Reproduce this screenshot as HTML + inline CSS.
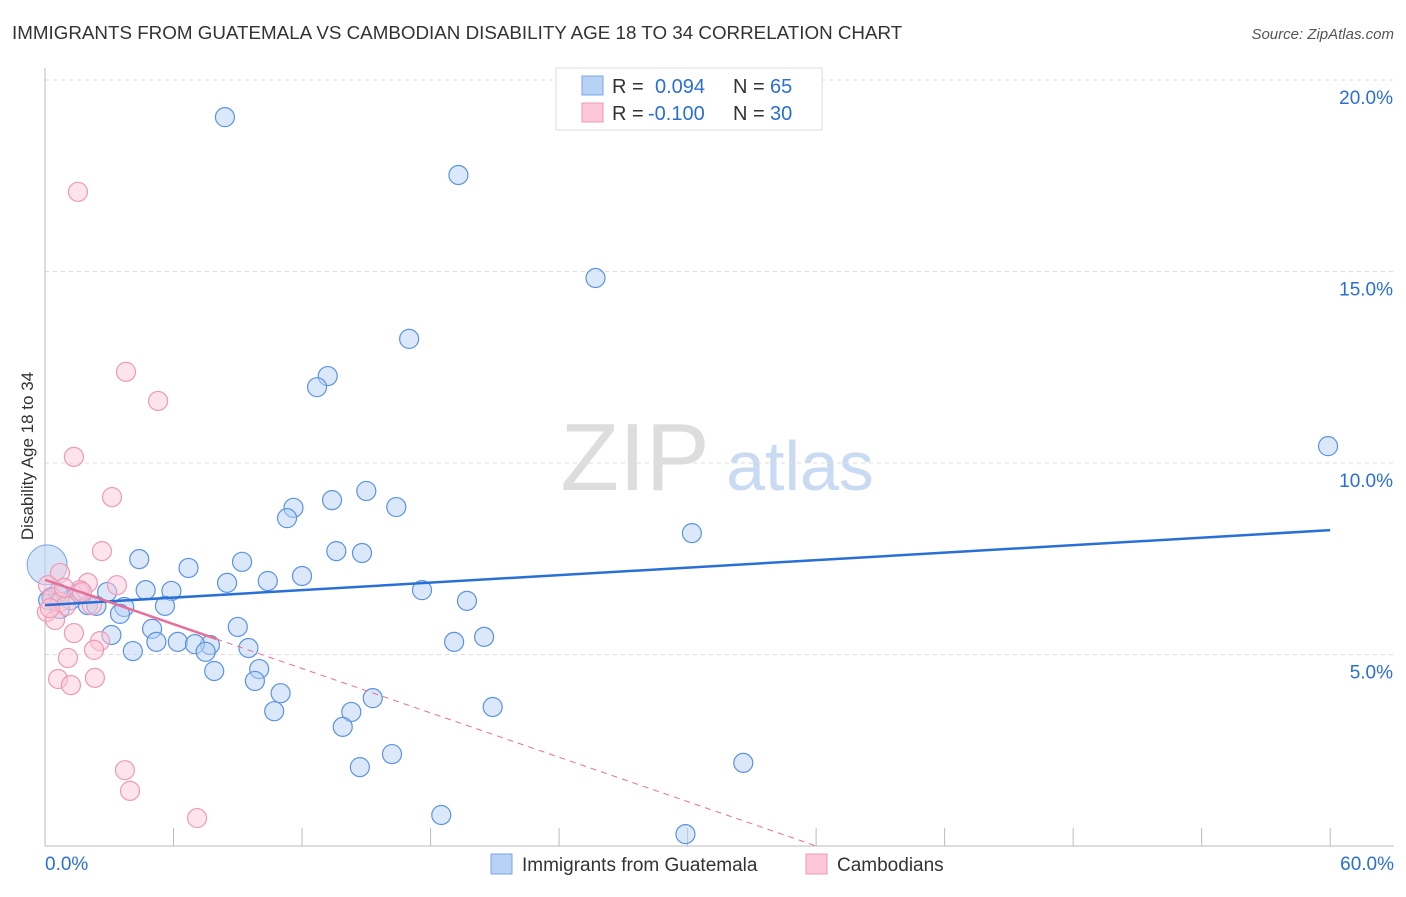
<!DOCTYPE html>
<html><head><meta charset="utf-8"><style>
body{margin:0;background:#fff;font-family:"Liberation Sans",sans-serif;}
svg text{font-family:"Liberation Sans",sans-serif;}
</style></head><body>
<svg id="chart" width="1406" height="892" xmlns="http://www.w3.org/2000/svg">
<text x="12" y="39" font-size="18.8" fill="#333">IMMIGRANTS FROM GUATEMALA VS CAMBODIAN DISABILITY AGE 18 TO 34 CORRELATION CHART</text>
<text x="1394" y="39" font-size="15" fill="#555" text-anchor="end" font-style="italic">Source: ZipAtlas.com</text>
<text transform="translate(33,456) rotate(-90)" font-size="17" fill="#333" text-anchor="middle">Disability Age 18 to 34</text>
<g><text x="635" y="490" font-size="96" fill="#ddd" font-family="Liberation Serif" text-anchor="middle">ZIP</text><text x="800" y="490" font-size="70" fill="#c9daf3" text-anchor="middle">atlas</text></g>
<g id="grid"></g><g id="axes"></g><g id="pts"></g><g id="trend"></g>
<g>
<rect x="556" y="68" width="266" height="62" fill="#fff" stroke="#ddd"/>
<rect x="582" y="76" width="21" height="19" fill="#b8d2f5" stroke="#7aa6e6"/>
<rect x="582" y="103" width="21" height="19" fill="#fcc8d8" stroke="#ee9ab5"/>
<text x="612" y="93" font-size="20" fill="#333">R =</text>
<text x="655" y="93" font-size="20" fill="#2a6fd6">0.094</text>
<text x="733" y="93" font-size="20" fill="#333">N =</text>
<text x="770" y="93" font-size="20" fill="#2a6fd6">65</text>
<text x="612" y="120" font-size="20" fill="#333">R =</text>
<text x="648" y="120" font-size="20" fill="#2a6fd6">-0.100</text>
<text x="733" y="120" font-size="20" fill="#333">N =</text>
<text x="770" y="120" font-size="20" fill="#2a6fd6">30</text>
</g>
<g>
<rect x="491" y="854" width="21" height="20" fill="#b8d2f5" stroke="#7aa6e6"/>
<text x="522" y="871" font-size="19" fill="#333">Immigrants from Guatemala</text>
<rect x="806" y="854" width="21" height="20" fill="#fcc8d8" stroke="#ee9ab5"/>
<text x="837" y="871" font-size="19" fill="#333">Cambodians</text>
</g>
</svg>
<script>
const blueX=[8.4,19.3,25.7,17.0,13.2,12.7,59.9,13.4,15.0,11.6,11.3,16.4,30.2,4.4,13.6,14.8,9.2,6.7,12.0,10.4,8.5,4.7,5.9,17.6,2.9,1.6,0.7,19.7,2.0,2.4,3.7,5.6,0.7,3.5,5.0,9.0,3.1,20.5,6.2,5.2,7.7,7.0,19.1,9.5,7.5,4.1,10.0,7.9,9.8,11.0,15.3,14.3,10.7,20.9,13.9,16.2,14.7,32.6,18.5,29.9,0.3,1.2,0.6,0.15];
const blueY=[19.03,17.52,14.83,13.24,12.27,11.98,10.44,9.03,9.27,8.83,8.56,8.85,8.17,7.49,7.70,7.65,7.42,7.26,7.05,6.92,6.87,6.68,6.66,6.68,6.63,6.61,6.55,6.40,6.29,6.27,6.24,6.27,6.19,6.06,5.67,5.72,5.51,5.46,5.33,5.33,5.25,5.27,5.33,5.17,5.07,5.09,4.62,4.57,4.31,3.99,3.86,3.50,3.52,3.63,3.11,2.40,2.06,2.17,0.81,0.31,6.50,6.42,6.61,6.42];
const pinkX=[1.54,3.78,5.28,1.35,3.13,2.66,0.70,0.14,2.0,3.36,1.63,0.33,0.7,0.98,2.19,0.09,0.47,1.35,2.57,2.29,1.07,0.61,1.21,2.33,3.73,3.97,7.10,0.89,0.23,1.73];
const pinkY=[17.08,12.38,11.62,10.16,9.11,7.70,7.13,6.81,6.87,6.81,6.68,6.48,6.37,6.27,6.29,6.11,5.90,5.56,5.35,5.12,4.91,4.36,4.20,4.39,1.98,1.44,0.73,6.74,6.21,6.63];
const bigX=[0.1], bigY=[7.34];
const blueTrend=[6.29,0.0326];
const pinkTrend=[6.95,-0.193];
const xTicks=["0.0%","60.0%"];
const yTicks=[5,10,15,20];
const X=v=>45+v*21.42, Y=v=>846-v*38.3;
const NS="http://www.w3.org/2000/svg";
function mk(p,t,a){const e=document.createElementNS(NS,t);for(const k in a)e.setAttribute(k,a[k]);document.getElementById(p).appendChild(e);return e;}
yTicks.forEach(v=>{const l=mk('grid','line',{x1:45,x2:1394,y1:Y(v),y2:Y(v),stroke:'#ddd','stroke-dasharray':'4,4'});


const t=mk('grid','text',{x:1393,y:Y(v)+24,'font-size':19,fill:'#2a6fd6','text-anchor':'end'});t.textContent=v.toFixed(1)+'%';

});
const ax=mk('axes','line',{x1:45,x2:45,y1:68,y2:846,stroke:'#bbb'});


const bx=mk('axes','line',{x1:45,x2:1394,y1:846,y2:846,stroke:'#bbb'});


for(let i=1;i<=10;i++){const t=mk('axes','line',{x1:X(i*6),x2:X(i*6),y1:828,y2:846,stroke:'#bbb'});

}
[[0,'start',45],[60,'end',1394]].forEach((d,i)=>{const t=mk('axes','text',{x:d[2],y:870,'font-size':19,fill:'#2a6fd6','text-anchor':d[1]});t.textContent=xTicks[i];

});
bigX.forEach((v,i)=>{const c=mk('pts','circle',{cx:X(v),cy:Y(bigY[i]),r:20,fill:'#b8d2f5','fill-opacity':0.6,stroke:'#7aa6e6'});

});
blueX.forEach((v,i)=>{const c=mk('pts','circle',{cx:X(v),cy:Y(blueY[i]),r:9.5,fill:'#b8d2f5','fill-opacity':0.5,stroke:'#5b93e0','stroke-width':1.2});

});
pinkX.forEach((v,i)=>{const c=mk('pts','circle',{cx:X(v),cy:Y(pinkY[i]),r:9.5,fill:'#fcc8d8','fill-opacity':0.5,stroke:'#ee9ab5','stroke-width':1.2});

});
const bl=mk('trend','line',{x1:X(0),y1:Y(blueTrend[0]),x2:X(60),y2:Y(blueTrend[0]+60*blueTrend[1]),stroke:'#2a6fd6','stroke-width':2.5});


const pe=-pinkTrend[0]/pinkTrend[1];
const pd=mk('trend','line',{x1:X(8),y1:Y(pinkTrend[0]+8*pinkTrend[1]),x2:X(pe),y2:Y(0),stroke:'#e86f99','stroke-width':1,'stroke-dasharray':'6,5'});


const ps=mk('trend','line',{x1:X(0),y1:Y(pinkTrend[0]),x2:X(8),y2:Y(pinkTrend[0]+8*pinkTrend[1]),stroke:'#e86f99','stroke-width':2.5});


</script>
</body></html>
